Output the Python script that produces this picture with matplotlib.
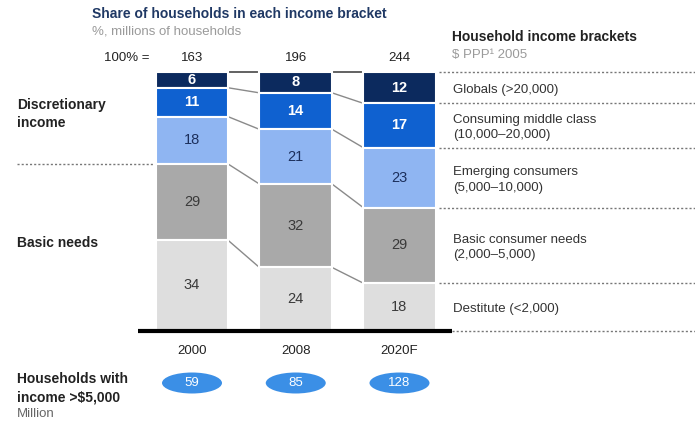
import matplotlib
matplotlib.use("Agg")
import matplotlib.pyplot as plt
from matplotlib.patches import Ellipse
import numpy as np

plt.rcParams['font.family'] = ['Liberation Sans', 'DejaVu Sans']

years = ["2000", "2008", "2020F"]
totals = [163, 196, 244]
households_5000 = [59, 85, 128]
# top-to-bottom segments
brackets = ["Globals (>20,000)", "Consuming middle class\n(10,000–20,000)",
            "Emerging consumers\n(5,000–10,000)", "Basic consumer needs\n(2,000–5,000)",
            "Destitute (<2,000)"]
globals_ = [6, 8, 12]
middle = [11, 14, 17]
emerging = [18, 21, 23]
basic = [29, 32, 29]
destitute = [34, 24, 18]

series = [globals_, middle, emerging, basic, destitute]
colors = ["#0c2a5e", "#0f61d0", "#8fb5f2", "#a9a9a9", "#dedede"]
text_colors = ["white", "white", "#1c2f5c", "#3a3a3a", "#3a3a3a"]
text_weights = ["bold", "bold", "normal", "normal", "normal"]

W, H = 695, 423
fig = plt.figure(figsize=(W / 100, H / 100), dpi=100)
ax = fig.add_axes([0, 0, 1, 1])
ax.axis("off")

cx0, cx2 = 192.0, 399.5
sx = (cx2 - cx0) / 2
ytop_px, ybase_px = 72.0, 330.0
sy = (ybase_px - ytop_px) / 100
ax.set_xlim(-cx0 / sx, (W - cx0) / sx)
ax.set_ylim(-(H - ybase_px) / sy, 100 + ytop_px / sy)

def P(x, y):
    return (x / W, 1 - y / H)

x = np.arange(len(years))
width = 0.70
arr = np.array(series, dtype=float)
shares = arr / arr.sum(axis=0) * 100  # normalize each bar to 100%

tops = np.full(len(years), 100.0)
boundaries = [tops.copy()]
for i, vals in enumerate(shares):
    bottoms = tops - vals
    ax.bar(x, vals, width, bottom=bottoms, color=colors[i], edgecolor="white",
           linewidth=1.5, zorder=3)
    for j in range(len(years)):
        ax.text(x[j], bottoms[j] + vals[j] / 2, str(series[i][j]), ha="center",
                va="center", fontsize=10.5, color=text_colors[i],
                fontweight=text_weights[i], zorder=4)
    tops = bottoms
    boundaries.append(tops.copy())

# connector lines
for k, b in enumerate(boundaries[:-1]):
    for j in range(len(years) - 1):
        ax.plot([x[j] + width / 2, x[j + 1] - width / 2], [b[j], b[j + 1]],
                color="#555555" if k == 0 else "#8a8a8a", lw=1.3 if k == 0 else 1.0,
                zorder=2)

# baseline
ax.plot([(138 - cx0) / sx, (452 - cx0) / sx], [-0.4, -0.4], color="black", lw=3,
        solid_capstyle="butt", zorder=5)

# right dotted lines at 2020F boundaries
xr0 = x[-1] + width / 2 + 0.03
xr1 = (W - cx0) / sx
for k, b in enumerate(boundaries):
    x_start = xr0 if k < len(boundaries) - 1 else (452 - cx0) / sx
    yv = b[-1] if k < len(boundaries) - 1 else -0.4
    ax.plot([x_start, xr1], [yv, yv], color="#777777", lw=1.0,
            linestyle=(0, (1.5, 1.5)), zorder=2)

# right labels, centered in 2020F segments
for i, lab in enumerate(brackets):
    mid = (boundaries[i][-1] + boundaries[i + 1][-1]) / 2 - 2.5 / sy
    ax.text((453 - cx0) / sx, mid, lab, ha="left", va="center", fontsize=9.5,
            color="#333333", linespacing=1.35)

# left dotted separator
ax.plot([(17 - cx0) / sx, (153 - cx0) / sx], [(boundaries[3][0])] * 2,
        color="#777777", lw=1.0, linestyle=(0, (1.5, 1.5)))

# Title block
fig.text(*P(92, 14), "Share of households in each income bracket", fontsize=10,
         fontweight="bold", color="#1f3864", va="center", ha="left")
fig.text(*P(92, 32), "%, millions of households", fontsize=9.5, color="#9a9a9a",
         va="center", ha="left")
fig.text(*P(150, 58), "100% =", fontsize=9.5, color="#222222", va="center", ha="right")
for j in range(len(years)):
    ax.text(x[j], 100 + 14 / sy, str(totals[j]), ha="center", va="center",
            fontsize=9.5, color="#222222")

fig.text(*P(452, 37), "Household income brackets", fontsize=10, fontweight="bold",
         color="#222222", va="center", ha="left")
fig.text(*P(452, 55), "$ PPP\u00b9 2005", fontsize=9.5, color="#9a9a9a",
         va="center", ha="left")

# left labels
fig.text(*P(17, 105), "Discretionary", fontsize=10, fontweight="bold",
         color="#222222", va="center", ha="left")
fig.text(*P(17, 123), "income", fontsize=10, fontweight="bold",
         color="#222222", va="center", ha="left")
fig.text(*P(17, 243), "Basic needs", fontsize=10, fontweight="bold",
         color="#222222", va="center", ha="left")

# years
for j in range(len(years)):
    ax.text(x[j], -(351 - ybase_px) / sy, years[j], ha="center", va="center",
            fontsize=9.5, color="#222222")

# ellipses
ey = -(383 - ybase_px) / sy
for j in range(len(years)):
    e = Ellipse((x[j], ey), width=60 / sx, height=21 / sy, facecolor="#3b8fe6",
                edgecolor="none", zorder=3)
    ax.add_patch(e)
    ax.text(x[j], ey, str(households_5000[j]), ha="center", va="center",
            fontsize=9.5, color="white", zorder=4)

fig.text(*P(17, 379), "Households with", fontsize=10, fontweight="bold",
         color="#222222", va="center", ha="left")
fig.text(*P(17, 397), "income >$5,000", fontsize=10, fontweight="bold",
         color="#222222", va="center", ha="left")
fig.text(*P(17, 414), "Million", fontsize=9.5, color="#666666", va="center", ha="left")

fig.savefig("out.png", dpi=100)
